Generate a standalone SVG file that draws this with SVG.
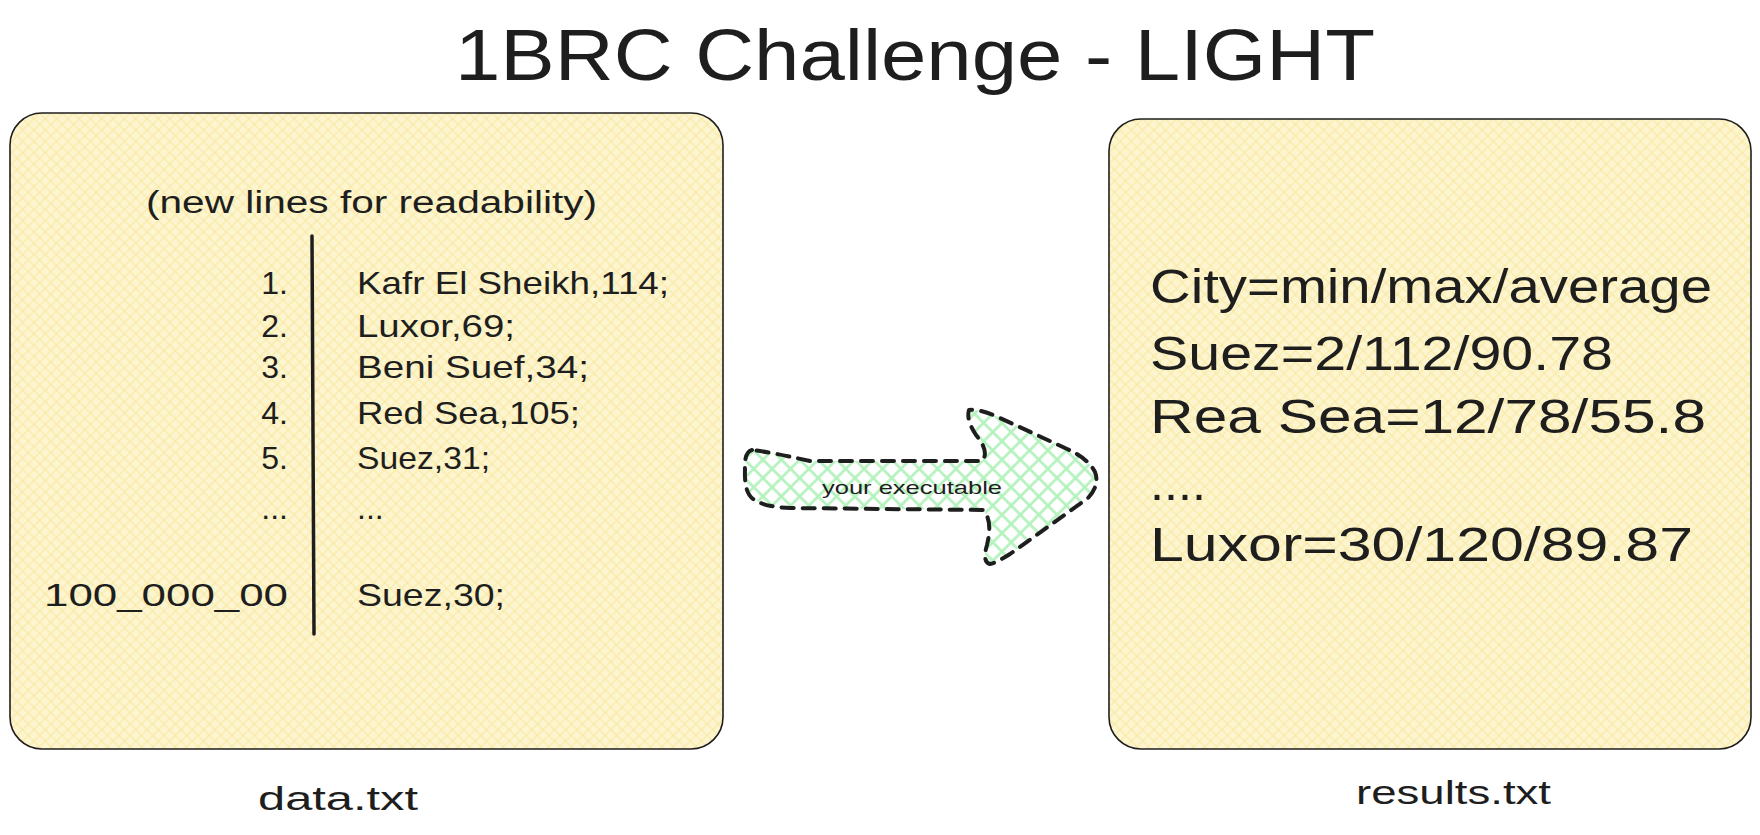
<svg xmlns="http://www.w3.org/2000/svg" width="1760" height="835" viewBox="0 0 1760 835">
<defs>
<pattern id="yel" patternUnits="userSpaceOnUse" width="8" height="8" patternTransform="rotate(45)">
<rect width="8" height="8" fill="#fdf5cf"/>
<line x1="4" y1="0" x2="4" y2="8" stroke="#f8e7a0" stroke-width="1"/>
<line x1="0" y1="4" x2="8" y2="4" stroke="#f8e7a0" stroke-width="1"/>
</pattern>
<pattern id="grn" patternUnits="userSpaceOnUse" width="13" height="13" patternTransform="rotate(45)">
<line x1="6.5" y1="0" x2="6.5" y2="13" stroke="#b2f2bb" stroke-width="2.6"/>
<line x1="0" y1="6.5" x2="13" y2="6.5" stroke="#b2f2bb" stroke-width="2.6"/>
</pattern>
<style>
.t{font-family:"Liberation Sans",Arial,sans-serif;fill:#1e1e1e}
.box{fill:url(#yel);stroke:#1e1e1e;stroke-width:1.6}
</style>
</defs>
<rect width="1760" height="835" fill="#ffffff"/>

<g id="title">
<text class="t" x="915" y="80" font-size="72" text-anchor="middle" textLength="920" lengthAdjust="spacingAndGlyphs">1BRC Challenge - LIGHT</text>
</g>

<g id="data-box">
<rect class="box" x="10" y="113" width="713" height="636" rx="32"/>
<text class="t" x="146" y="213" font-size="31" textLength="451" lengthAdjust="spacingAndGlyphs">(new lines for readability)</text>
<line x1="312" y1="236" x2="314" y2="634" stroke="#1e1e1e" stroke-width="3.5" stroke-linecap="round"/>
<g class="t" font-size="32" text-anchor="end">
<text x="288" y="294">1.</text>
<text x="288" y="337">2.</text>
<text x="288" y="378">3.</text>
<text x="288" y="424">4.</text>
<text x="288" y="469">5.</text>
<text x="288" y="519">...</text>
<text x="288" y="606" textLength="244" lengthAdjust="spacingAndGlyphs">100_000_00</text>
</g>
<g class="t" font-size="32">
<text x="357" y="294" textLength="312" lengthAdjust="spacingAndGlyphs">Kafr El Sheikh,114;</text>
<text x="357" y="337" textLength="158" lengthAdjust="spacingAndGlyphs">Luxor,69;</text>
<text x="357" y="378" textLength="232" lengthAdjust="spacingAndGlyphs">Beni Suef,34;</text>
<text x="357" y="424" textLength="223" lengthAdjust="spacingAndGlyphs">Red Sea,105;</text>
<text x="357" y="469" textLength="133" lengthAdjust="spacingAndGlyphs">Suez,31;</text>
<text x="357" y="519">...</text>
<text x="357" y="606" textLength="148" lengthAdjust="spacingAndGlyphs">Suez,30;</text>
</g>
<text class="t" x="258" y="810" font-size="33" textLength="160" lengthAdjust="spacingAndGlyphs">data.txt</text>
</g>

<g id="results-box">
<rect class="box" x="1109" y="119" width="642" height="630" rx="32"/>
<g class="t" font-size="48">
<text x="1150" y="303" textLength="562" lengthAdjust="spacingAndGlyphs">City=min/max/average</text>
<text x="1150" y="370" textLength="463" lengthAdjust="spacingAndGlyphs">Suez=2/112/90.78</text>
<text x="1150" y="433" textLength="556" lengthAdjust="spacingAndGlyphs">Rea Sea=12/78/55.8</text>
<text x="1150" y="500" textLength="56" lengthAdjust="spacingAndGlyphs">....</text>
<text x="1150" y="561" textLength="543" lengthAdjust="spacingAndGlyphs">Luxor=30/120/89.87</text>
</g>
<text class="t" x="1356" y="804" font-size="33" textLength="195" lengthAdjust="spacingAndGlyphs">results.txt</text>
</g>

<g id="connectors">
<g id="executable-arrow">
<path d="M 752 450 Q 744 452 745 470 Q 744 495 755 500 Q 765 507 790 508 L 983 510 Q 993 520 987 545 Q 982 562 990 564 Q 996 563 1010 554 L 1088 498 Q 1100 485 1095 472 Q 1088 458 1065 448 L 1000 418 Q 978 408 969 410 Q 966 420 976 435 Q 990 452 982 461 L 810 461 Q 770 452 752 450 Z" fill="url(#grn)" stroke="#1e1e1e" stroke-width="4" stroke-dasharray="12 9" stroke-linecap="round" stroke-linejoin="round"/>
<text class="t" x="822" y="494" font-size="19" textLength="180" lengthAdjust="spacingAndGlyphs">your executable</text>
</g>
</g>
</svg>
